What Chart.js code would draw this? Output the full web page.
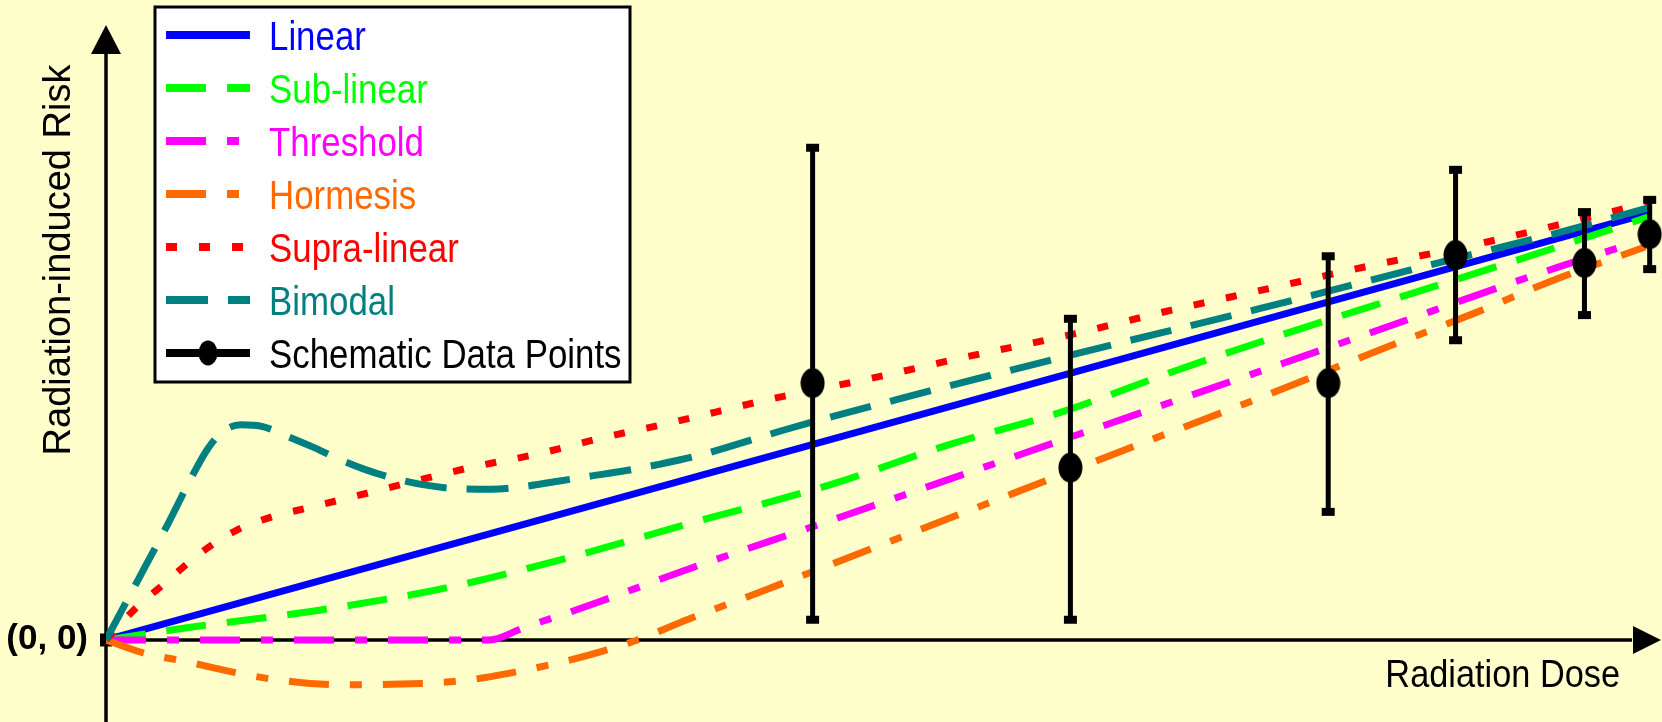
<!DOCTYPE html>
<html>
<head>
<meta charset="utf-8">
<title>Radiation dose–risk models</title>
<script src="https://cdn.jsdelivr.net/npm/chart.js@4.4.1/dist/chart.umd.min.js"></script>
<style>
  html, body { margin: 0; padding: 0; background: #FFFFCC; }
  #wrap { width: 1662px; height: 722px; }
  canvas { display: block; }
</style>
</head>
<body>
<div id="wrap"><canvas id="c" width="1662" height="722"></canvas></div>
<script>
// Dose and risk in arbitrary units (dose 0–100 along the axis, risk 0–100 up the axis)
const seriesNames = ['Linear', 'Sub-linear', 'Threshold', 'Hormesis', 'Supra-linear', 'Bimodal', 'Schematic Data Points'];
const seriesColors = ['#0000FF', '#00FF00', '#FF00FF', '#FF6A00', '#FF0000', '#008080', '#000000'];

const linearDose = [0, 99.5];
const linearRisk = [0, 69.7];

const subDose = [0, 2.6, 5.2, 13.3, 21.9, 29.9, 37.7, 46.6, 54.2, 61.9, 68.5, 76.1, 83.8, 91.5, 99.3];
const subRisk = [0, 1.0, 2.0, 4.7, 8.5, 13.5, 19.1, 25.3, 31.8, 37.5, 43.6, 50.1, 56.3, 62.5, 69.0];

const thrDose = [0, 24.7, 26.8, 31.4, 37.2, 46.2, 57.8, 69.5, 81.3, 93.0, 97.8];
const thrRisk = [0, 0, 1.9, 5.9, 11.3, 19.1, 29.3, 39.6, 50.0, 60.4, 64.3];

const horDose = [0, 2.4, 5.3, 8.1, 11.0, 15.0, 19.0, 23.1, 26.0, 29.0, 32.0, 34.2, 37.5, 42.5, 50.6, 58.5, 66.5, 74.2, 82.0, 88.0, 93.0, 99.1];
const horRisk = [0, -2.1, -3.6, -5.2, -6.5, -7.3, -7.2, -6.6, -5.4, -3.8, -1.8, 0, 3.4, 8.2, 16.2, 24.0, 31.9, 39.4, 47.3, 53.2, 58.5, 64.1];

const supDose = [0, 1.8, 3.8, 6.2, 8.4, 10.7, 12.9, 15.0, 19.1, 23.4, 27.7, 32.0, 36.3, 42.8, 49.3, 55.6, 62.1, 68.6, 75.0, 81.3, 88.0, 94.3, 99.5];
const supRisk = [0, 4.9, 9.3, 14.4, 17.9, 20.1, 21.5, 22.8, 25.4, 28.1, 30.3, 33.0, 35.4, 39.3, 42.7, 46.3, 49.8, 53.8, 57.4, 61.0, 64.4, 68.2, 71.5];

const bimDose = [0, 2.0, 4.0, 5.5, 6.5, 7.5, 8.7, 10.1, 11.6, 13.3, 15.0, 16.7, 18.5, 20.5, 22.5, 24.8, 26.8, 29.1, 31.1, 33.4, 35.7, 38.0, 44.0, 50.9, 62.3, 74.2, 85.6, 93.6, 99.3];
const bimRisk = [0, 9.5, 19.0, 26.5, 31.0, 34.0, 35.1, 34.8, 33.3, 31.5, 29.5, 27.8, 26.4, 25.3, 24.7, 24.6, 25.0, 25.9, 26.7, 27.6, 28.7, 30.0, 34.5, 39.2, 46.6, 54.0, 61.4, 66.5, 70.5];

const pointDose = [45.5, 62.1, 78.7, 86.9, 95.2, 99.4];
const pointRisk = [41.9, 28.1, 41.9, 62.8, 61.5, 66.2];
const pointLow  = [3.3, 3.3, 20.9, 48.9, 53.0, 60.5];
const pointHigh = [80.3, 52.4, 62.6, 76.7, 69.8, 71.8];

const xLabel = 'Radiation Dose';
const yLabel = 'Radiation-induced Risk';
const originLabel = '(0, 0)';

const FONT = '"Liberation Sans", Arial, Helvetica, sans-serif';
const NARROW = 0.85;

function zip(xs, ys) { return xs.map((x, i) => ({ x: x, y: ys[i] })); }

// Filled ellipse used as the data-point marker
function ellipseMarker(w, h) {
  const c = document.createElement('canvas');
  c.width = w; c.height = h;
  const g = c.getContext('2d');
  g.fillStyle = '#000';
  g.beginPath();
  g.ellipse(w / 2, h / 2, w / 2 - 0.5, h / 2 - 0.5, 0, 0, Math.PI * 2);
  g.fill();
  return c;
}
const marker = ellipseMarker(25, 31);
const legendMarker = ellipseMarker(20, 26);

const curveDash = [[], [40, 21], [40, 21, 12, 21], [40, 21, 12, 21], [11, 22], [42, 20]];
const curveData = [
  zip(linearDose, linearRisk), zip(subDose, subRisk), zip(thrDose, thrRisk),
  zip(horDose, horRisk), zip(supDose, supRisk), zip(bimDose, bimRisk)
];

const datasets = curveData.map((pts, i) => ({
  label: seriesNames[i],
  data: pts,
  showLine: true,
  borderColor: seriesColors[i],
  backgroundColor: seriesColors[i],
  borderWidth: 7,
  borderDash: curveDash[i],
  borderCapStyle: 'butt',
  pointRadius: 0,
  cubicInterpolationMode: 'monotone',
  order: 6 - i
}));
datasets.push({
  label: seriesNames[6],
  data: zip(pointDose, pointRisk),
  showLine: false,
  pointStyle: marker,
  pointRadius: 12,
  borderColor: '#000',
  backgroundColor: '#000',
  clip: false,
  order: 0,
  isPoints: true
});

function narrowText(ctx, text, x, y, size, color, align, squeeze) {
  const k = squeeze || NARROW;
  ctx.save();
  ctx.font = size + 'px ' + FONT;
  ctx.fillStyle = color;
  ctx.textBaseline = 'alphabetic';
  ctx.textAlign = 'left';
  const w = ctx.measureText(text).width * k;
  const x0 = align === 'right' ? x - w : x;
  ctx.translate(x0, y);
  ctx.scale(k, 1);
  ctx.fillText(text, 0, 0);
  ctx.restore();
}

// Arrowed axes through the origin, plus axis captions
const axesPlugin = {
  id: 'arrowAxes',
  beforeDatasetsDraw(chart) {
    const ctx = chart.ctx;
    const xs = chart.scales.x, ys = chart.scales.y;
    const ox = xs.getPixelForValue(0), oy = ys.getPixelForValue(0);
    const W = chart.width, H = chart.height;
    ctx.save();
    ctx.strokeStyle = '#000';
    ctx.fillStyle = '#000';
    ctx.lineWidth = 3.5;
    // vertical axis
    ctx.beginPath();
    ctx.moveTo(ox, H);
    ctx.lineTo(ox, 50);
    ctx.stroke();
    ctx.beginPath();
    ctx.moveTo(ox, 25);
    ctx.lineTo(ox - 15, 54);
    ctx.lineTo(ox + 15, 54);
    ctx.closePath();
    ctx.fill();
    // horizontal axis
    ctx.beginPath();
    ctx.moveTo(ox, oy);
    ctx.lineTo(W - 30, oy);
    ctx.stroke();
    ctx.beginPath();
    ctx.moveTo(W - 1, oy);
    ctx.lineTo(W - 29, oy - 14);
    ctx.lineTo(W - 29, oy + 14);
    ctx.closePath();
    ctx.fill();
    // origin marker
    ctx.fillRect(ox - 6, oy - 6.5, 12, 13);

    // axis captions
    narrowText(ctx, xLabel, 1620, 687, 39, '#000', 'right', 0.88);

    ctx.save();
    ctx.translate(70, 260);
    ctx.rotate(-Math.PI / 2);
    ctx.font = '38px ' + FONT;
    ctx.textAlign = 'center';
    ctx.textBaseline = 'alphabetic';
    ctx.fillStyle = '#000';
    ctx.fillText(yLabel, 0, 0);
    ctx.restore();

    ctx.font = 'bold 35px ' + FONT;
    ctx.textAlign = 'right';
    ctx.textBaseline = 'alphabetic';
    ctx.fillText(originLabel, 88, oy + 9);
    ctx.restore();
  }
};

// Vertical error bars with square caps, drawn just before the markers
const errorBarPlugin = {
  id: 'errorBars',
  beforeDatasetDraw(chart, args) {
    const ds = chart.data.datasets[args.index];
    if (!ds.isPoints) return;
    const ctx = chart.ctx;
    const xs = chart.scales.x, ys = chart.scales.y;
    ctx.save();
    ctx.strokeStyle = '#000';
    ctx.fillStyle = '#000';
    ctx.lineWidth = 5;
    pointDose.forEach((d, i) => {
      const px = xs.getPixelForValue(d);
      const top = ys.getPixelForValue(pointHigh[i]);
      const bot = ys.getPixelForValue(pointLow[i]);
      ctx.beginPath();
      ctx.moveTo(px, top);
      ctx.lineTo(px, bot);
      ctx.stroke();
      ctx.fillRect(px - 6.5, top - 4, 13, 8);
      ctx.fillRect(px - 6.5, bot - 4, 13, 8);
    });
    ctx.restore();
  }
};

// Boxed legend in the upper left of the plot
const boxLegendPlugin = {
  id: 'boxLegend',
  afterDraw(chart) {
    const ctx = chart.ctx;
    const box = { x: 155, y: 7, w: 475, h: 375 };
    ctx.save();
    ctx.fillStyle = '#FFFFFF';
    ctx.fillRect(box.x, box.y, box.w, box.h);
    ctx.strokeStyle = '#000';
    ctx.lineWidth = 3;
    ctx.strokeRect(box.x, box.y, box.w, box.h);
    chart.data.datasets.forEach((ds, i) => {
      const cy = 35 + i * 53;
      ctx.save();
      ctx.strokeStyle = ds.borderColor;
      ctx.lineWidth = 8;
      ctx.lineCap = 'butt';
      ctx.setLineDash(ds.isPoints ? [] : (ds.borderDash || []));
      ctx.beginPath();
      ctx.moveTo(166, cy);
      ctx.lineTo(250, cy);
      ctx.stroke();
      ctx.restore();
      if (ds.isPoints) {
        ctx.drawImage(legendMarker, 208 - legendMarker.width / 2, cy - legendMarker.height / 2);
      }
      narrowText(ctx, ds.label, 269, cy + 15, 41, ds.borderColor, 'left');
    });
    ctx.restore();
  }
};

new Chart(document.getElementById('c'), {
  type: 'scatter',
  data: { datasets: datasets },
  options: {
    responsive: false,
    devicePixelRatio: 1,
    animation: false,
    events: [],
    layout: { autoPadding: false, padding: { left: 106, right: 3, top: 27, bottom: 0 } },
    scales: {
      x: { type: 'linear', min: 0, max: 100, display: false },
      y: { type: 'linear', min: -13.38, max: 100, display: false }
    },
    plugins: {
      legend: { display: false },
      tooltip: { enabled: false }
    }
  },
  plugins: [axesPlugin, errorBarPlugin, boxLegendPlugin]
});
</script>
</body>
</html>
